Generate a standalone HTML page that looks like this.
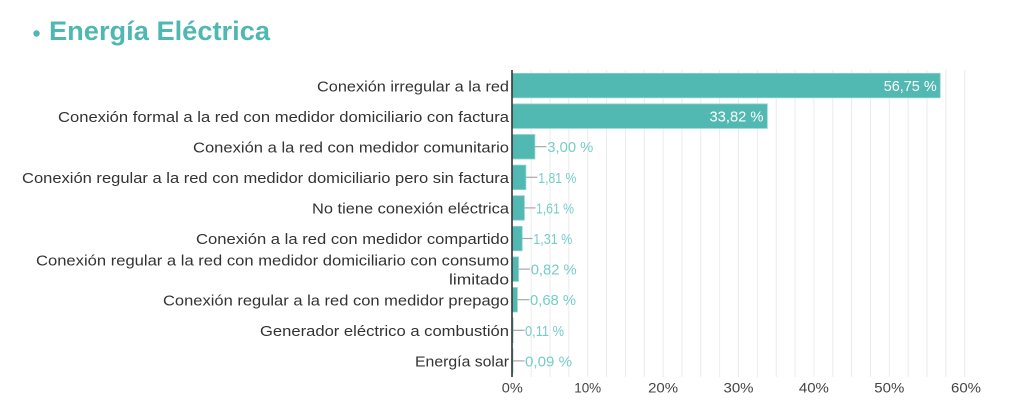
<!DOCTYPE html>
<html><head><meta charset="utf-8"><style>
html,body{margin:0;padding:0;background:#fff;}
svg{display:block;font-family:"Liberation Sans",sans-serif;}
</style></head><body>
<svg width="1024" height="410" viewBox="0 0 1024 410" xmlns="http://www.w3.org/2000/svg">
<rect width="1024" height="410" fill="#fff"/>
<!-- title -->
<circle cx="36.5" cy="33.5" r="3.2" fill="#4fb8b2"/>
<text x="49" y="40" font-size="26.5" font-weight="bold" fill="#4fb8b2" textLength="221" lengthAdjust="spacingAndGlyphs">Energía Eléctrica</text>
<!-- gridlines -->
<g stroke="#ebebeb" stroke-width="1">
<line x1="531.15" y1="70" x2="531.15" y2="377"/>
<line x1="550" y1="70" x2="550" y2="377"/>
<line x1="568.85" y1="70" x2="568.85" y2="377"/>
<line x1="587.7" y1="70" x2="587.7" y2="377"/>
<line x1="606.55" y1="70" x2="606.55" y2="377"/>
<line x1="625.4" y1="70" x2="625.4" y2="377"/>
<line x1="644.25" y1="70" x2="644.25" y2="377"/>
<line x1="663.1" y1="70" x2="663.1" y2="377"/>
<line x1="681.95" y1="70" x2="681.95" y2="377"/>
<line x1="700.8" y1="70" x2="700.8" y2="377"/>
<line x1="719.65" y1="70" x2="719.65" y2="377"/>
<line x1="738.5" y1="70" x2="738.5" y2="377"/>
<line x1="757.35" y1="70" x2="757.35" y2="377"/>
<line x1="776.2" y1="70" x2="776.2" y2="377"/>
<line x1="795.05" y1="70" x2="795.05" y2="377"/>
<line x1="813.9" y1="70" x2="813.9" y2="377"/>
<line x1="832.75" y1="70" x2="832.75" y2="377"/>
<line x1="851.6" y1="70" x2="851.6" y2="377"/>
<line x1="870.45" y1="70" x2="870.45" y2="377"/>
<line x1="889.3" y1="70" x2="889.3" y2="377"/>
<line x1="908.15" y1="70" x2="908.15" y2="377"/>
<line x1="927" y1="70" x2="927" y2="377"/>
<line x1="945.85" y1="70" x2="945.85" y2="377"/>
<line x1="964.7" y1="70" x2="964.7" y2="377"/>
</g>
<!-- bars -->
<g fill="#52b8b2" stroke="#8fd3ce" stroke-width="0.8">
<rect x="512.3" y="73.3" width="427.9" height="24.5"/>
<rect x="512.3" y="103.9" width="255.0" height="24.5"/>
<rect x="512.3" y="134.5" width="22.6" height="24.5"/>
<rect x="512.3" y="165.1" width="13.6" height="24.5"/>
<rect x="512.3" y="195.7" width="12.1" height="24.5"/>
<rect x="512.3" y="226.3" width="9.9" height="24.5"/>
<rect x="512.3" y="256.9" width="6.2" height="24.5"/>
<rect x="512.3" y="287.5" width="5.1" height="24.5"/>
<rect x="512.3" y="318.1" width="0.8" height="24.5"/>
<rect x="512.3" y="348.7" width="0.7" height="24.5"/>
</g>
<!-- leader lines -->
<g stroke="#a8a8a8" stroke-width="1.2">
<line x1="534.9" y1="146.7" x2="546.5" y2="146.7"/>
<line x1="525.9" y1="177.3" x2="537.5" y2="177.3"/>
<line x1="524.4" y1="207.9" x2="535.5" y2="207.9"/>
<line x1="522.2" y1="238.5" x2="532.5" y2="238.5"/>
<line x1="518.5" y1="269.1" x2="530" y2="269.1"/>
<line x1="517.4" y1="299.7" x2="529.5" y2="299.7"/>
<line x1="513.1" y1="330.3" x2="524.5" y2="330.3"/>
<line x1="513" y1="360.9" x2="524.5" y2="360.9"/>
</g>
<!-- axis -->
<line x1="512" y1="70" x2="512" y2="377" stroke="#333" stroke-width="1.6"/>
<!-- value labels -->
<g font-size="15" fill="#fff" text-anchor="end">
<text x="936.7" y="91" textLength="53" lengthAdjust="spacingAndGlyphs">56,75 %</text>
<text x="763.5" y="121.6" textLength="54" lengthAdjust="spacingAndGlyphs">33,82 %</text>
</g>
<g font-size="15" fill="#76cdc7">
<text x="547.3" y="152.2" textLength="46" lengthAdjust="spacingAndGlyphs">3,00 %</text>
<text x="538.3" y="182.8" textLength="38" lengthAdjust="spacingAndGlyphs">1,81 %</text>
<text x="536" y="213.4" textLength="38" lengthAdjust="spacingAndGlyphs">1,61 %</text>
<text x="533.3" y="244" textLength="39" lengthAdjust="spacingAndGlyphs">1,31 %</text>
<text x="530.7" y="274.6" textLength="46" lengthAdjust="spacingAndGlyphs">0,82 %</text>
<text x="530" y="305.2" textLength="46" lengthAdjust="spacingAndGlyphs">0,68 %</text>
<text x="525" y="335.8" textLength="39" lengthAdjust="spacingAndGlyphs">0,11 %</text>
<text x="525" y="366.4" textLength="47" lengthAdjust="spacingAndGlyphs">0,09 %</text>
</g>
<!-- category labels -->
<g font-size="15" fill="#333" text-anchor="end">
<text x="509" y="91.3" textLength="192" lengthAdjust="spacingAndGlyphs">Conexión irregular a la red</text>
<text x="509" y="121.9" textLength="451" lengthAdjust="spacingAndGlyphs">Conexión formal a la red con medidor domiciliario con factura</text>
<text x="509" y="152.5" textLength="316" lengthAdjust="spacingAndGlyphs">Conexión a la red con medidor comunitario</text>
<text x="509" y="183.1" textLength="487" lengthAdjust="spacingAndGlyphs">Conexión regular a la red con medidor domiciliario pero sin factura</text>
<text x="509" y="213.7" textLength="197" lengthAdjust="spacingAndGlyphs">No tiene conexión eléctrica</text>
<text x="509" y="244.2" textLength="313" lengthAdjust="spacingAndGlyphs">Conexión a la red con medidor compartido</text>
<text x="509" y="265.7" textLength="473" lengthAdjust="spacingAndGlyphs">Conexión regular a la red con medidor domiciliario con consumo</text>
<text x="509" y="284.3" textLength="60" lengthAdjust="spacingAndGlyphs">limitado</text>
<text x="509" y="305.4" textLength="346" lengthAdjust="spacingAndGlyphs">Conexión regular a la red con medidor prepago</text>
<text x="509" y="336" textLength="249" lengthAdjust="spacingAndGlyphs">Generador eléctrico a combustión</text>
<text x="509" y="366.6" textLength="94" lengthAdjust="spacingAndGlyphs">Energía solar</text>
</g>
<!-- x tick labels -->
<g font-size="14" fill="#444" text-anchor="middle">
<text x="512.3" y="392.7" textLength="21" lengthAdjust="spacingAndGlyphs">0%</text>
<text x="587.7" y="392.7" textLength="27" lengthAdjust="spacingAndGlyphs">10%</text>
<text x="663.1" y="392.7" textLength="30" lengthAdjust="spacingAndGlyphs">20%</text>
<text x="738.5" y="392.7" textLength="30" lengthAdjust="spacingAndGlyphs">30%</text>
<text x="813.9" y="392.7" textLength="30" lengthAdjust="spacingAndGlyphs">40%</text>
<text x="889.3" y="392.7" textLength="30" lengthAdjust="spacingAndGlyphs">50%</text>
<text x="966" y="392.7" textLength="30" lengthAdjust="spacingAndGlyphs">60%</text>
</g>
</svg>
</body></html>
